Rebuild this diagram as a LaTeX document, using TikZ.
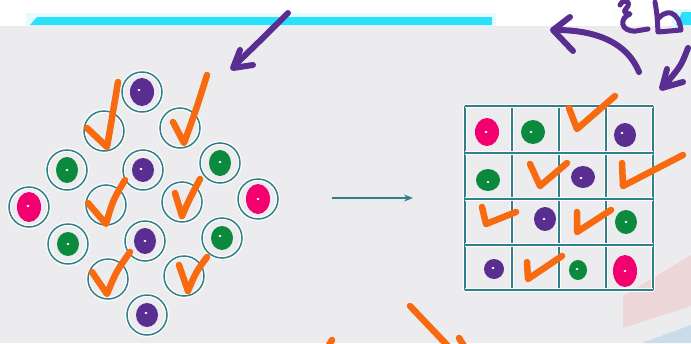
\documentclass[tikz,border=0pt]{standalone}
\usetikzlibrary{arrows.meta}
\definecolor{bg}{HTML}{ECECEF}
\definecolor{cyanbar}{HTML}{2AE0FA}
\definecolor{teal1}{HTML}{2F8088}
\definecolor{purp}{HTML}{5A2D91}
\definecolor{grn}{HTML}{0B8A3E}
\definecolor{pnk}{HTML}{F2006F}
\definecolor{org}{HTML}{F86A10}
\definecolor{pinkpatch}{HTML}{EDD6D8}
\definecolor{bluepatch}{HTML}{CADCE9}
\newcommand\blobdot[5]{%
  \fill[#1] #2 ellipse [x radius=#3, y radius=#4];
  \fill[white] #2 ++(#5) ellipse [x radius=1.6, y radius=1.1];}
\begin{document}
\begin{tikzpicture}[x=1pt,y=-1pt,
  ring/.style={circle, draw=teal1, line width=1.5pt, minimum size=40pt, inner sep=0pt,
    preaction={draw=white, line width=4pt}},
  chk/.style={draw=org, line width=6.5pt, line cap=round, line join=round},
  parr/.style={draw=purp, line width=6pt, line cap=round, line join=round},
  gline/.style={draw=teal1, line width=1.8pt, preaction={draw=white, line width=4pt}}]
\useasboundingbox (0,0) rectangle (691,343);
\clip (0,0) rectangle (691,343);
% background
\fill[white] (0,0) rectangle (691,343);
\fill[cyanbar!12] (26,13) rectangle (496,27);
\fill[cyanbar] (30,25) -- (37,17) -- (492,17) -- (492,25) -- cycle;
\fill[cyanbar!15] (672,9) rectangle (691,27);
\fill[cyanbar] (676,25) -- (682,12) -- (691,12) -- (691,25) -- cycle;
\fill[bg] (0,26) rectangle (691,343);
\fill[pinkpatch] (623,296) -- (691,255) -- (691,306) -- (623,328) -- cycle;
\fill[bluepatch] (642,343) -- (691,325) -- (691,343) -- cycle;

% rings
\foreach \n/\x/\y in {c1/142/92, c2/104/131, c3/180/128, c4/67/170, c5/143/170, c6/220/163,
  c7/29/207, c8/106/205, c9/182/202, c10/258/199, c11/68/244, c12/145/241, c13/222/238,
  c14/108/279, c15/184/276, c16/147/315}
  \node[ring] (\n) at (\x,\y) {};

% dots in rings
\blobdot{purp}{(c1)}{12}{14}{-3,-2}
\blobdot{purp}{(c5)}{11}{12}{-2,-1}
\blobdot{grn}{(c4)}{11}{13}{0,0}
\blobdot{grn}{(c6)}{11}{13}{0,-1}
\blobdot{pnk}{(c7)}{12}{15}{-1,-1}
\blobdot{pnk}{(c10)}{12}{15}{0,0}
\blobdot{grn}{(c11)}{11}{12}{0,0}
\blobdot{purp}{(c12)}{11}{13}{0,0}
\blobdot{grn}{(c13)}{11}{12}{-2,-2}
\blobdot{purp}{(c16)}{11}{12}{-1,-2}

% checks on rings
\draw[chk] (87,128) -- (107,147) .. controls (112,118) .. (118,82);
\draw[chk] (173,122) -- (184,143) .. controls (196,110) .. (207,75);
\draw[chk] (88,203) -- (106,224) .. controls (113,200) .. (125,180);
\draw[chk] (175,193) -- (182,216) .. controls (190,198) .. (200,179);
\draw[chk] (92,272) -- (107,294) .. controls (116,272) .. (130,252);
\draw[chk] (179,265) -- (188,291) .. controls (196,272) .. (207,257);

% purple arrow top-left
\draw[parr] (288,13) .. controls (265,36) .. (236,64);
\draw[parr] (240,50) -- (233,68) -- (253,65);

% middle arrow
\coordinate (a1) at (332,198);
\coordinate (a2) at (413,198);
\draw[teal1, line width=1.2pt, -{Stealth[length=9pt,width=7pt]}] (a1) -- (a2);

% grid
\node[draw=none, minimum width=188pt, minimum height=184pt, inner sep=0pt] (tbl) at (559,198) {};
\foreach \x in {465,512,559,606,653} \draw[gline] (\x,106) -- (\x,290);
\foreach \y in {106,153,199,245,290} \draw[gline] (465,\y) -- (653,\y);

% grid dots
\blobdot{pnk}{(487,132)}{12}{14}{-1,0}
\blobdot{grn}{(533,132)}{12}{12}{-2,0}
\blobdot{purp}{(625,135)}{11}{12}{-3,-2}
\blobdot{grn}{(488,180)}{12}{11}{0,2}
\blobdot{purp}{(583,177)}{12}{11}{-2,1}
\blobdot{purp}{(545,219)}{11}{12}{-1,0}
\blobdot{grn}{(626,222)}{11}{12}{0,0}
\blobdot{purp}{(494,269)}{10}{10}{-1,-1}
\blobdot{grn}{(578,270)}{9}{10}{-1,-1}
\blobdot{pnk}{(625,271)}{12}{16}{0,0}

% grid checks
\draw[chk] (569,108) -- (577,129) -- (615,96);
\draw[chk] (530,164) -- (540,186) -- (567,163);
\draw[chk] (622,163) -- (623,186) -- (683,155);
\draw[chk] (482,207) -- (486,224) -- (516,212);
\draw[chk] (577,212) -- (577,232) -- (611,210);
\draw[chk] (527,262) -- (528,279) -- (562,256);

% purple arrows top-right
\draw[parr] (639,72) .. controls (627,42) and (595,30) .. (556,30);
\draw[parr] (570,17) -- (553,30) -- (573,51);
\draw[parr] (688,48) .. controls (681,66) .. (664,86);
\draw[parr] (667,69) -- (662,88) -- (683,82);
% scribbles
\draw[purp, line width=5pt, line cap=round, line join=round]
  (620,5) .. controls (623,-1) and (630,0) .. (628,6) .. controls (626,10) and (620,12) .. (630,14)
  .. controls (619,18) and (620,32) .. (636,31) -- (648,29);
\draw[purp, line width=5pt, line cap=round, line join=round]
  (655,2) .. controls (657,14) .. (658,32) -- (681,30)
  .. controls (680,22) and (677,15) .. (671,13) .. controls (666,12) and (661,15) .. (659,18);

% bottom orange strokes
\draw[chk] (410,306) -- (448,346);
\draw[chk] (459,338) -- (464,346);
\draw[chk] (332,340) -- (328,347);
\end{tikzpicture}
\end{document}
